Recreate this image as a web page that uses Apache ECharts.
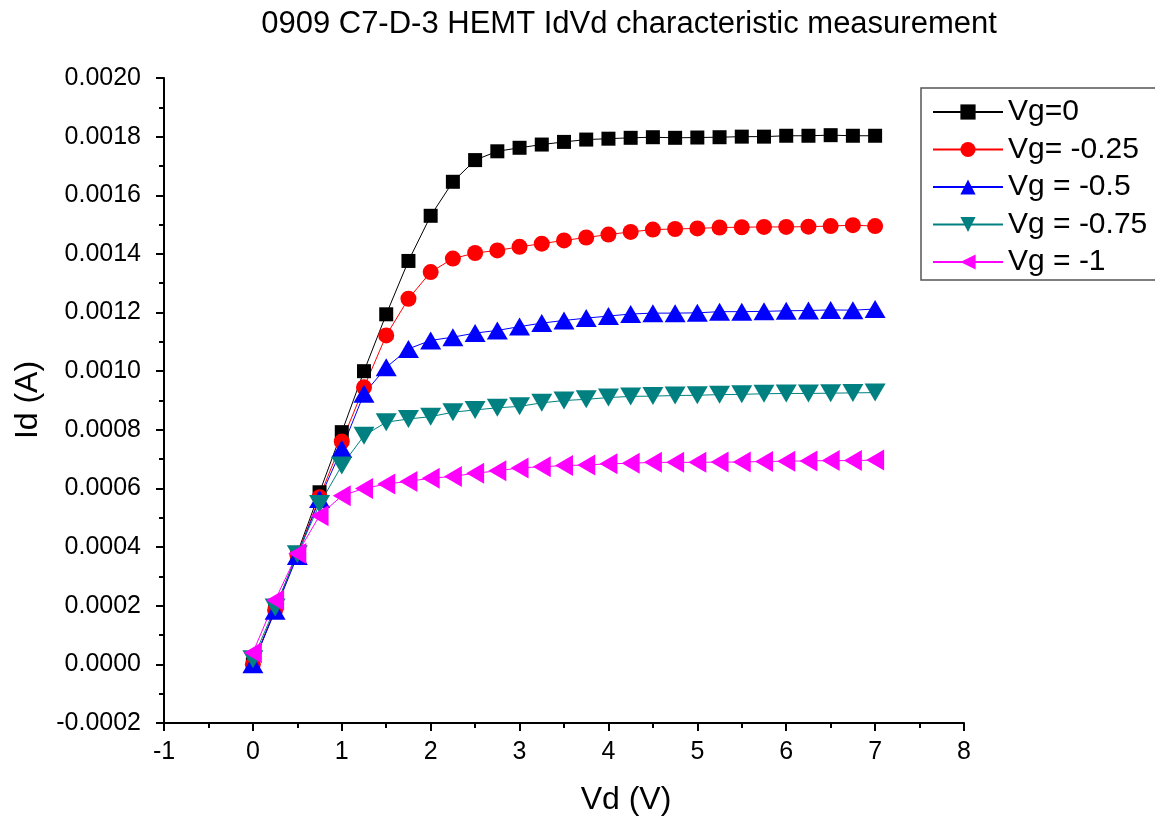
<!DOCTYPE html>
<html>
<head>
<meta charset="utf-8">
<script src="https://cdn.jsdelivr.net/npm/echarts@6/dist/echarts.min.js"></script>
<style>html,body{margin:0;padding:0;background:#fff;}#c{width:1155px;height:819px;}</style>
</head>
<body>
<div id="c"></div>
<script>
const titleText = '0909 C7-D-3 HEMT IdVd characteristic measurement';
const xName = 'Vd (V)';
const yName = 'Id (A)';
const seriesNames = ['Vg=0', 'Vg= -0.25', 'Vg = -0.5', 'Vg = -0.75', 'Vg = -1'];
const vd = [0, 0.25, 0.5, 0.75, 1, 1.25, 1.5, 1.75, 2, 2.25, 2.5, 2.75, 3, 3.25, 3.5, 3.75, 4, 4.25, 4.5, 4.75, 5, 5.25, 5.5, 5.75, 6, 6.25, 6.5, 6.75, 7];
const idVg0 = [0.0, 0.000188, 0.000380, 0.000587, 0.000792, 0.001000, 0.001194, 0.001376, 0.001530, 0.001646, 0.001720, 0.001750, 0.001762, 0.001773, 0.001782, 0.001790, 0.001793, 0.001796, 0.001798, 0.001796, 0.001797, 0.001798, 0.001800, 0.001800, 0.001803, 0.001803, 0.001805, 0.001803, 0.001803];
const idVg025 = [0.0, 0.000185, 0.000375, 0.000570, 0.000760, 0.000945, 0.001122, 0.001247, 0.001338, 0.001384, 0.001403, 0.001412, 0.001424, 0.001435, 0.001446, 0.001456, 0.001466, 0.001475, 0.001483, 0.001485, 0.001487, 0.001490, 0.001491, 0.001492, 0.001492, 0.001493, 0.001495, 0.001498, 0.001495];
const idVg05 = [0.0, 0.000183, 0.000370, 0.000564, 0.000735, 0.000923, 0.001013, 0.001076, 0.001105, 0.001116, 0.001130, 0.001139, 0.001152, 0.001164, 0.001173, 0.001181, 0.001188, 0.001195, 0.001198, 0.001198, 0.001199, 0.001203, 0.001203, 0.001204, 0.001206, 0.001207, 0.001209, 0.001208, 0.001212];
const idVg075 = [0.0000176, 0.000194, 0.000376, 0.000547, 0.000678, 0.000780, 0.000826, 0.000837, 0.000845, 0.000860, 0.000868, 0.000875, 0.000880, 0.000892, 0.000900, 0.000904, 0.000910, 0.000914, 0.000915, 0.000917, 0.000918, 0.000920, 0.000921, 0.000923, 0.000924, 0.000924, 0.000925, 0.000926, 0.000927];
const idVg1 = [0.00004, 0.000219, 0.000378, 0.000507, 0.000575, 0.000600, 0.000615, 0.000624, 0.000635, 0.000641, 0.000652, 0.000660, 0.000670, 0.000674, 0.000678, 0.000680, 0.000684, 0.000686, 0.000689, 0.000689, 0.000689, 0.000690, 0.000690, 0.000692, 0.000693, 0.000694, 0.000695, 0.000695, 0.000697];

const FONT = '"Liberation Sans", Arial, sans-serif';
const allY = [idVg0, idVg025, idVg05, idVg075, idVg1];
const colors = ['#000000', '#ff0000', '#0000ff', '#008080', '#ff00ff'];
const symbols = ['rect', 'circle', 'triangle', 'triangle', 'triangle'];
const rotates = [0, 0, 0, 180, 90];
const sizes = [14, 16, [21, 18], [21, 18], [21, 18]];

const chart = echarts.init(document.getElementById('c'), null, {renderer: 'canvas'});
const series = seriesNames.map((n, i) => ({
  name: n,
  type: 'line',
  data: vd.map((x, j) => [x, allY[i][j]]),
  symbol: symbols[i],
  symbolRotate: rotates[i],
  symbolSize: sizes[i],
  showAllSymbol: true,
  color: colors[i],
  lineStyle: {color: colors[i], width: 1},
  itemStyle: {color: colors[i]},
  animation: false
}));

chart.setOption({
  animation: false,
  backgroundColor: '#ffffff',
  title: {
    text: titleText, left: 624, top: 4, textAlign: 'center',
    textStyle: {fontFamily: FONT, fontSize: 31, fontWeight: 'normal', color: '#000'}
  },
  grid: {left: 164, right: 191, top: 78, bottom: 96, containLabel: false},
  legend: {
    left: 921, top: 88, orient: 'vertical',
    padding: [9, 12, 3, 11],
    itemWidth: 70, itemHeight: 19, itemGap: 7.5,
    borderColor: '#555', borderWidth: 1.5,
    textStyle: {fontFamily: FONT, fontSize: 30, color: '#000', lineHeight: 30},
    data: seriesNames
  },
  xAxis: {
    type: 'value', min: -1, max: 8, interval: 1,
    axisLine: {onZero: false, lineStyle: {color: '#000', width: 2}},
    axisTick: {length: 8, lineStyle: {color: '#000', width: 2}},
    minorTick: {show: true, splitNumber: 2, length: 5, lineStyle: {color: '#000', width: 2}},
    splitLine: {show: false},
    axisLabel: {fontFamily: FONT, fontSize: 25, color: '#000', margin: 17}
  },
  yAxis: {
    type: 'value', min: -0.0002, max: 0.0020, interval: 0.0002,
    axisLine: {onZero: false, lineStyle: {color: '#000', width: 2}},
    axisTick: {length: 8, lineStyle: {color: '#000', width: 2}},
    minorTick: {show: true, splitNumber: 2, length: 5, lineStyle: {color: '#000', width: 2}},
    splitLine: {show: false},
    axisLabel: {fontFamily: FONT, fontSize: 25, color: '#000', margin: 23,
      formatter: v => v.toFixed(4)}
  },
  graphic: [
    {type: 'text', x: 626, y: 800, style: {text: xName, fontFamily: FONT, fontSize: 32, fill: '#000', align: 'center', verticalAlign: 'middle'}},
    {type: 'text', x: 28, y: 400, rotation: Math.PI / 2, style: {text: yName, fontFamily: FONT, fontSize: 32, fill: '#000', align: 'center', verticalAlign: 'middle'}}
  ],
  series: series
});
</script>
</body>
</html>
